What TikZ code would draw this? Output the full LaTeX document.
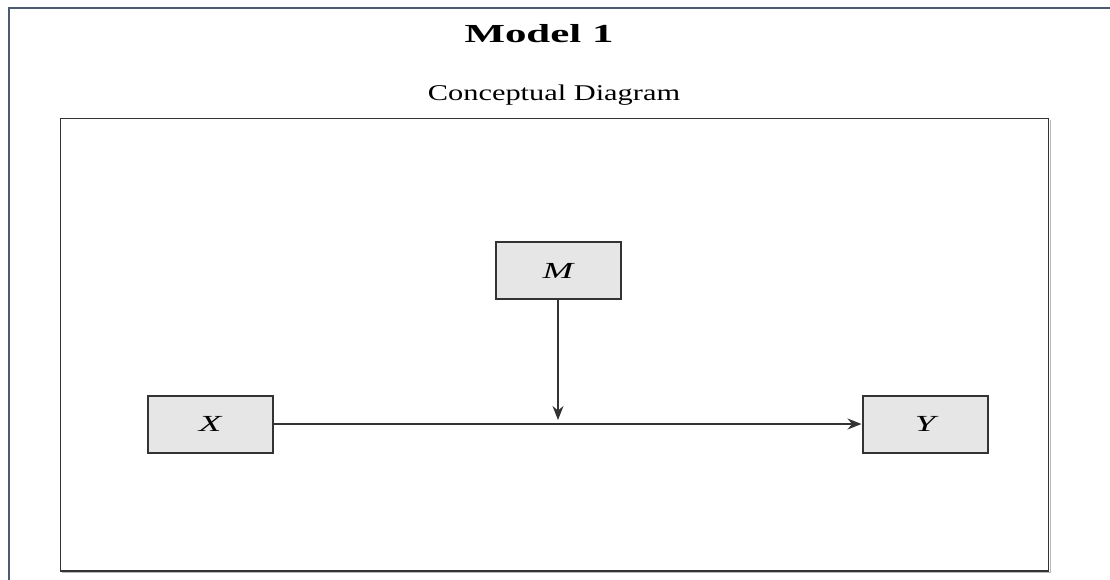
\documentclass[tikz,border=0pt]{standalone}
\usepackage{fontspec}
\setmainfont{Liberation Serif}
\usetikzlibrary{arrows.meta}
\definecolor{framecol}{HTML}{4E5A72}
\definecolor{boxline}{HTML}{333333}
\definecolor{boxfill}{HTML}{E6E6E6}
\tikzset{
  varbox/.style={draw=boxline, line width=2pt, fill=boxfill,
    minimum width=125pt, minimum height=57pt, inner sep=0pt,
    font=\fontsize{23}{23}\selectfont\itshape},
  link/.style={draw=boxline, line width=1.4pt,
    -{Stealth[length=14pt, width=11pt, inset=4.5pt]}},
}
\newcommand{\wide}[2]{\scalebox{#1}[1]{#2}}
\begin{document}
\begin{tikzpicture}[x=1pt, y=-1pt]
  \useasboundingbox (0,0) rectangle (1110,580);
  % open outer frame: top and left edges only
  \draw[framecol, line width=2pt] (8.5,580) -- (8.5,8.5) -- (1110,8.5);
  % inner panel with a faint shadow on the right and bottom
  \draw[gray!55, line width=1pt] (1050.5,120) -- (1050.5,572.8) -- (62,572.8);
  \draw[boxline, line width=1.8pt] (60.5,118.5) rectangle (1048.5,571);
  % headings
  \node[font=\fontsize{26}{26}\selectfont\bfseries, anchor=base] (title)
    at (539,42.5) {\wide{1.65}{Model 1}};
  \node[font=\fontsize{22.5}{22.5}\selectfont, anchor=base] (subtitle)
    at (554,101) {\wide{1.35}{Conceptual Diagram}};
  % variables
  \node[varbox] (M) at (558,270.5) {\wide{1.6}{M}};
  \node[varbox] (X) at (210,424) {\wide{1.6}{X}};
  \node[varbox] (Y) at (925,424) {\wide{1.6}{Y}};
  % paths
  \coordinate (hit) at (M.south |- X.east);
  \draw[link] (X.east) -- (Y.west);
  \draw[link, shorten >=4pt] (M.south) -- (hit);
\end{tikzpicture}
\end{document}
